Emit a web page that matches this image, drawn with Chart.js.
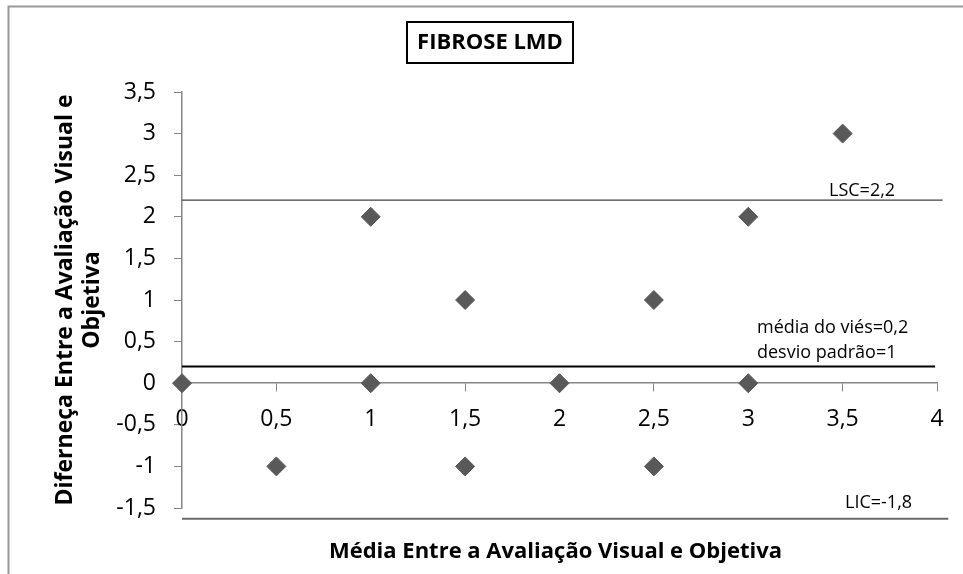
<!DOCTYPE html>
<html>
<head>
<meta charset="utf-8">
<title>FIBROSE LMD</title>
<script src="https://cdn.jsdelivr.net/npm/chart.js@4"></script>
<style>
    html, body { margin: 0; padding: 0; background: #ffffff; }
    canvas { display: block; }
</style>
</head>
<body>
<canvas id="blandAltmanChart" width="963" height="574"></canvas>
<script>
// Bland-Altman points: mean of the two evaluations vs their difference
var meanValues = [0, 0.5, 1, 1, 1.5, 1.5, 2, 2.5, 2.5, 3, 3, 3.5];
var diffValues = [0, -1, 2, 0, 1, -1, 0, 1, -1, 2, 0, 3];

// Reference lines (LSC, bias, LIC) as drawn in the picture
var limitLabels = ['LSC=2,2', 'média do viés=0,2', 'LIC=-1,8'];
var limitLevels = [2.2, 0.2, -1.63];
var limitEnds = [4.03, 3.99, 4.06];
var noteLine2 = 'desvio padrão=1';

var chartTitle = 'FIBROSE LMD';
var xTitle = 'Média Entre a Avaliação Visual e Objetiva';
var yTitle = ['Diferneça Entre a Avaliação Visual e', 'Objetiva'];

var colors = {
    marker: '#595959',
    axis: '#868686',
    text: '#000000',
    lsc: '#404040',
    mean: '#000000',
    lic: '#6a6a6a',
    frame: '#9a9a9a'
};

function toComma(v) {
    return String(v).replace('.', ',');
}

var points = meanValues.map(function (m, i) {
    return { x: m, y: diffValues[i] };
});

function limitLine(i, color, width) {
    return {
        label: limitLabels[i],
        data: [{ x: 0, y: limitLevels[i] }, { x: limitEnds[i], y: limitLevels[i] }],
        showLine: true,
        borderColor: color,
        borderWidth: width,
        pointRadius: 0,
        clip: false
    };
}

// extra drawing: outer frame, boxed title, notes, x axis title
var decorations = {
    id: 'decorations',
    afterDraw: function (chart) {
        var ctx = chart.ctx;
        var area = chart.chartArea;
        var ys = chart.scales.y;
        ctx.save();

        ctx.strokeStyle = colors.frame;
        ctx.lineWidth = 2;
        ctx.beginPath();
        ctx.moveTo(8.5, 574);
        ctx.lineTo(8.5, 6.5);
        ctx.lineTo(963, 6.5);
        ctx.stroke();

        ctx.strokeStyle = '#000000';
        ctx.lineWidth = 2;
        ctx.strokeRect(407, 22, 166, 41);
        ctx.fillStyle = colors.text;
        ctx.font = 'bold 22px "Open Sans"';
        ctx.textAlign = 'center';
        ctx.textBaseline = 'middle';
        ctx.fillText(chartTitle, 490, 43);

        ctx.font = 'bold 22px "Open Sans"';
        ctx.fillText(xTitle, (area.left + area.right) / 2 - 4, 552);

        ctx.font = '18px "Open Sans"';
        ctx.textAlign = 'left';
        ctx.fillText(limitLabels[0], 829, ys.getPixelForValue(limitLevels[0]) - 9);
        ctx.fillText(limitLabels[1], 757, ys.getPixelForValue(limitLevels[1]) - 39);
        ctx.fillText(noteLine2, 757, ys.getPixelForValue(limitLevels[1]) - 14);
        ctx.fillText(limitLabels[2], 845, ys.getPixelForValue(limitLevels[2]) - 16);
        ctx.restore();
    }
};

new Chart(document.getElementById('blandAltmanChart'), {
    type: 'scatter',
    data: {
        datasets: [
            limitLine(0, colors.lsc, 1.2),
            limitLine(1, colors.mean, 2),
            limitLine(2, colors.lic, 2),
            {
                label: 'Diferença',
                data: points,
                pointStyle: 'rectRot',
                pointRadius: 9.5,
                backgroundColor: colors.marker,
                borderColor: colors.marker,
                borderWidth: 1,
                clip: false
            }
        ]
    },
    options: {
        responsive: false,
        animation: false,
        devicePixelRatio: 1,
        layout: {
            padding: { left: 0, top: 92, right: 26, bottom: 66 }
        },
        scales: {
            x: {
                type: 'linear',
                position: { y: 0 },
                min: 0,
                max: 4,
                afterFit: function (scale) { scale.height = 0; },
                ticks: {
                    stepSize: 0.5,
                    padding: 14,
                    color: colors.text,
                    font: { family: 'Open Sans', size: 23 },
                    callback: toComma
                },
                grid: {
                    drawOnChartArea: false,
                    drawTicks: true,
                    tickLength: 8,
                    tickColor: colors.axis
                },
                border: { color: colors.axis, width: 1.5 }
            },
            y: {
                type: 'linear',
                position: 'left',
                min: -1.5,
                max: 3.5,
                afterFit: function (scale) { scale.width = 182; },
                ticks: {
                    stepSize: 0.5,
                    padding: 18,
                    color: colors.text,
                    font: { family: 'Open Sans', size: 23 },
                    callback: toComma
                },
                grid: {
                    drawOnChartArea: false,
                    drawTicks: true,
                    tickLength: 8,
                    tickColor: colors.axis
                },
                border: { color: colors.axis, width: 1.5 },
                title: {
                    display: true,
                    text: yTitle,
                    color: colors.text,
                    font: { family: 'Open Sans', size: 23, weight: 'bold', lineHeight: 1.17 },
                    padding: { top: 52, bottom: 0 }
                }
            }
        },
        plugins: {
            legend: { display: false },
            tooltip: { enabled: false }
        }
    },
    plugins: [decorations]
});
</script>
</body>
</html>
